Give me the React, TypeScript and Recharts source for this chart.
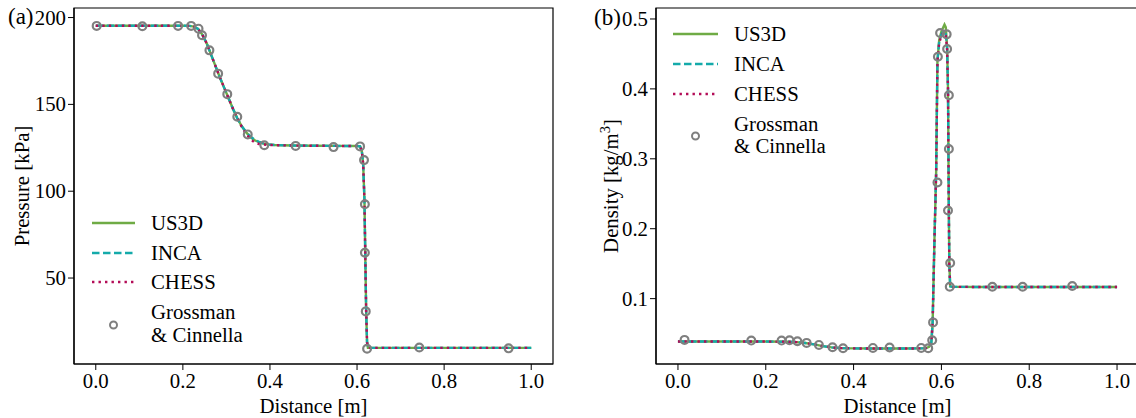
import React from 'react';
import { ComposedChart, Line, Scatter, XAxis, YAxis, ReferenceArea } from 'recharts';

// ---------- data ----------
const xTicks = [0, 0.2, 0.4, 0.6, 0.8, 1.0];
const pressureTicks = [50, 100, 150, 200];
const densityTicks = [0.1, 0.2, 0.3, 0.4, 0.5];

const distP = [0, 0.1, 0.2, 0.215, 0.225, 0.235, 0.245, 0.255, 0.265, 0.275, 0.285, 0.295, 0.305, 0.315, 0.325, 0.335, 0.345, 0.355, 0.365, 0.375, 0.385, 0.395, 0.41, 0.45, 0.5, 0.55, 0.6, 0.607, 0.611, 0.614, 0.617, 0.619, 0.621, 0.623, 0.625, 0.7, 0.8, 0.9, 1.0];
const pUS3D = [195.3, 195.3, 195.3, 195.2, 194.8, 193.5, 190, 185, 178.5, 172, 165.5, 159.5, 153.5, 147.5, 142, 137.5, 134, 131.2, 129.3, 128.2, 127.4, 127, 126.6, 126.3, 126.2, 126.1, 126, 125.8, 123, 116, 95, 62, 30, 13, 9.8, 9.8, 9.8, 9.8, 9.8];
const pINCA = [195.3, 195.3, 195.3, 195.2, 194.8, 193.5, 190, 185, 178.5, 172, 165.5, 159.5, 153.5, 147.5, 142, 137.5, 134.2, 131.5, 129.6, 128.4, 127.5, 127, 126.6, 126.3, 126.2, 126.1, 126, 125.8, 123, 116, 95, 62, 30, 13, 9.8, 9.8, 9.8, 9.8, 9.8];
const pCHESS = [195.3, 195.3, 195.3, 195.2, 194.8, 193.5, 190, 185, 178.5, 172, 165.5, 159.5, 153.5, 147.5, 142, 137.2, 133.2, 130, 128, 127.2, 126.9, 126.7, 126.5, 126.3, 126.2, 126.1, 126, 125.8, 123, 116, 95, 62, 30, 13, 9.8, 9.8, 9.8, 9.8, 9.8];
const gcPx = [0.002, 0.107, 0.189, 0.219, 0.236, 0.244, 0.261, 0.281, 0.302, 0.325, 0.349, 0.387, 0.459, 0.546, 0.607, 0.616, 0.618, 0.618, 0.620, 0.623, 0.743, 0.948];
const gcPy = [195.2, 195.0, 195.2, 195.2, 193.6, 189.8, 181.1, 167.7, 155.9, 142.9, 132.7, 126.5, 126.1, 125.4, 125.8, 117.9, 92.5, 64.6, 30.8, 9.3, 10.0, 9.5];

const distR = [0, 0.1, 0.2, 0.25, 0.27, 0.29, 0.31, 0.33, 0.35, 0.37, 0.4, 0.45, 0.5, 0.55, 0.565, 0.572, 0.577, 0.58, 0.584, 0.588, 0.591, 0.595, 0.6, 0.604, 0.607, 0.61, 0.613, 0.615, 0.616, 0.617, 0.618, 0.62, 0.625, 0.7, 0.8, 0.9, 1.0];
const rUS3D = [0.0386, 0.0386, 0.0386, 0.0384, 0.0378, 0.0365, 0.0345, 0.032, 0.0302, 0.0292, 0.0288, 0.0287, 0.0287, 0.0288, 0.0292, 0.031, 0.037, 0.065, 0.18, 0.28, 0.44, 0.47, 0.482, 0.488, 0.492, 0.488, 0.46, 0.40, 0.31, 0.22, 0.15, 0.1175, 0.1168, 0.1167, 0.1167, 0.1167, 0.1166];
const rINCA = [0.0386, 0.0386, 0.0386, 0.0384, 0.0378, 0.0365, 0.0345, 0.032, 0.0302, 0.0292, 0.0288, 0.0287, 0.0287, 0.0288, 0.0292, 0.031, 0.037, 0.065, 0.18, 0.28, 0.44, 0.468, 0.478, 0.482, 0.482, 0.478, 0.458, 0.40, 0.31, 0.22, 0.15, 0.1175, 0.1168, 0.1167, 0.1167, 0.1167, 0.1166];
const rCHESS = [0.0386, 0.0386, 0.0386, 0.0384, 0.0378, 0.0365, 0.0345, 0.032, 0.0302, 0.0292, 0.0288, 0.0287, 0.0287, 0.0288, 0.0292, 0.031, 0.037, 0.065, 0.18, 0.28, 0.44, 0.466, 0.476, 0.48, 0.481, 0.476, 0.456, 0.40, 0.31, 0.22, 0.15, 0.1175, 0.1168, 0.1167, 0.1167, 0.1167, 0.1166];
const gcRx = [0.015, 0.167, 0.236, 0.254, 0.272, 0.293, 0.321, 0.352, 0.376, 0.444, 0.482, 0.554, 0.570, 0.579, 0.581, 0.591, 0.592, 0.597, 0.612, 0.613, 0.617, 0.617, 0.615, 0.620, 0.619, 0.716, 0.785, 0.898];
const gcRy = [0.041, 0.040, 0.040, 0.0404, 0.039, 0.0367, 0.0338, 0.0305, 0.029, 0.0295, 0.030, 0.0295, 0.029, 0.0405, 0.066, 0.266, 0.446, 0.480, 0.478, 0.457, 0.391, 0.314, 0.226, 0.151, 0.117, 0.117, 0.117, 0.118];

// ---------- styles ----------
const FONT = '"Liberation Serif", "Times New Roman", serif';
const GREEN = '#6fab45';
const TEAL = '#14aaaa';
const CRIMSON = '#b30c57';
const GRAY = '#7f7f7f';
const LW = 2.4;
const DASH = '7.5 3.5';
const DOT = '2.4 4.1';
const FS = 20.8;
const txt: React.CSSProperties = { fontFamily: FONT, fontSize: FS, fill: '#000' };

const zip = (xs: number[], ys: number[]) => xs.map((x, i) => ({ x, y: ys[i] }));

const OpenCircle = (props: any) => {
  const { cx, cy } = props;
  if (cx == null || cy == null) return null;
  return <circle cx={cx} cy={cy} r={3.9} fill="none" stroke={GRAY} strokeWidth={2.2} />;
};

const makeXTick = (props: any) => {
  const { x, y, payload } = props;
  return (
    <text x={x} y={y} dy={15} textAnchor="middle" style={txt}>
      {Number(payload.value).toFixed(1)}
    </text>
  );
};

const makeYTick = (fmt: (v: number) => string) => (props: any) => {
  const { x, y, payload } = props;
  return (
    <text x={x} y={y} dy={7} textAnchor="end" style={txt}>
      {fmt(Number(payload.value))}
    </text>
  );
};

function Panel(props: {
  width: number;
  left: number;
  yWidth: number;
  rightMargin: number;
  yDomain: [number, number];
  yTicks: number[];
  yFmt: (v: number) => string;
  us3d: { x: number; y: number }[];
  inca: { x: number; y: number }[];
  chess: { x: number; y: number }[];
  gc: { x: number; y: number }[];
}) {
  const { width, left, yWidth, rightMargin, yDomain, yTicks, yFmt, us3d, inca, chess, gc } = props;
  return (
    <div style={{ position: 'absolute', left, top: 0 }}>
      <ComposedChart width={width} height={418} margin={{ top: 8, right: rightMargin, bottom: 0, left: 0 }}>
        <XAxis
          type="number"
          dataKey="x"
          domain={[-0.05, 1.05]}
          ticks={xTicks}
          allowDataOverflow
          tick={makeXTick}
          tickSize={6}
          tickMargin={3}
          height={54}
          stroke="#000"
          tickLine={{ stroke: '#000' }}
          axisLine={{ stroke: '#000', strokeWidth: 1.2 }}
        />
        <YAxis
          type="number"
          dataKey="y"
          domain={yDomain}
          ticks={yTicks}
          allowDataOverflow
          tick={makeYTick(yFmt)}
          tickSize={6}
          tickMargin={2}
          width={yWidth}
          stroke="#000"
          tickLine={{ stroke: '#000' }}
          axisLine={{ stroke: '#000', strokeWidth: 1.2 }}
        />
        <ReferenceArea
          x1={-0.05}
          x2={1.05}
          y1={yDomain[0]}
          y2={yDomain[1]}
          fill="none"
          fillOpacity={0}
          stroke="#000"
          strokeWidth={1.2}
          ifOverflow="visible"
        />
        <Line data={us3d} dataKey="y" type="linear" stroke={GREEN} strokeWidth={LW} dot={false} isAnimationActive={false} />
        <Line data={inca} dataKey="y" type="linear" stroke={TEAL} strokeWidth={LW} strokeDasharray={DASH} dot={false} isAnimationActive={false} />
        <Line data={chess} dataKey="y" type="linear" stroke={CRIMSON} strokeWidth={LW} strokeDasharray={DOT} dot={false} isAnimationActive={false} />
        <Scatter data={gc} dataKey="y" shape={OpenCircle} isAnimationActive={false} />
      </ComposedChart>
    </div>
  );
}

function LegendBlock({ x0, x1, tx, ys, my, gy1, gy2 }: { x0: number; x1: number; tx: number; ys: number[]; my: number; gy1: number; gy2: number }) {
  const items = [
    { label: 'US3D', color: GREEN, dash: undefined as string | undefined },
    { label: 'INCA', color: TEAL, dash: DASH },
    { label: 'CHESS', color: CRIMSON, dash: DOT },
  ];
  return (
    <g>
      {items.map((it, i) => (
        <g key={it.label}>
          <line x1={x0} x2={x1} y1={ys[i]} y2={ys[i]} stroke={it.color} strokeWidth={LW} strokeDasharray={it.dash} />
          <text x={tx} y={ys[i] + 7} style={txt}>{it.label}</text>
        </g>
      ))}
      <circle cx={(x0 + x1) / 2} cy={my} r={3.5} fill="none" stroke={GRAY} strokeWidth={2} />
      <text x={tx} y={gy1} style={txt}>Grossman</text>
      <text x={tx} y={gy2} style={txt}>&amp; Cinnella</text>
    </g>
  );
}

export default function App() {
  return (
    <div style={{ position: 'fixed', left: 0, top: 0, width: 1136, height: 418, overflow: 'hidden', background: '#fff', fontSize: FS, fontFamily: FONT }}>
      <Panel
        width={560}
        left={0}
        yWidth={74}
        rightMargin={7}
        yDomain={[0.5, 205.5]}
        yTicks={pressureTicks}
        yFmt={(v: number) => String(v)}
        us3d={zip(distP, pUS3D)}
        inca={zip(distP, pINCA)}
        chess={zip(distP, pCHESS)}
        gc={zip(gcPx, gcPy)}
      />
      <Panel
        width={569}
        left={580}
        yWidth={76}
        rightMargin={10}
        yDomain={[0.0065, 0.5157]}
        yTicks={densityTicks}
        yFmt={(v: number) => v.toFixed(1)}
        us3d={zip(distR, rUS3D)}
        inca={zip(distR, rINCA)}
        chess={zip(distR, rCHESS)}
        gc={zip(gcRx, gcRy)}
      />
      <svg width={1136} height={418} style={{ position: 'absolute', left: 0, top: 0, pointerEvents: 'none' }}>
        <text x={8} y={24} style={{ ...txt, fontSize: 23 }}>(a)</text>
        <text x={594} y={25} style={{ ...txt, fontSize: 23 }}>(b)</text>
        <text x={313.5} y={413} textAnchor="middle" style={txt}>Distance [m]</text>
        <text x={897.5} y={413} textAnchor="middle" style={txt}>Distance [m]</text>
        <text x={28.5} y={186} transform="rotate(-90 28.5 186)" textAnchor="middle" style={txt}>Pressure [kPa]</text>
        <text x={617.5} y={186} transform="rotate(-90 617.5 186)" textAnchor="middle" style={txt}>
          Density [kg/m<tspan dy={-8} style={{ fontSize: 14.5 }}>3</tspan><tspan dy={8}>]</tspan>
        </text>
        <LegendBlock x0={92} x1={135} tx={151} ys={[223, 253, 282]} my={325} gy1={319} gy2={341.5} />
        <LegendBlock x0={673} x1={718} tx={734} ys={[34, 64, 94]} my={136} gy1={131} gy2={152.5} />
      </svg>
    </div>
  );
}
